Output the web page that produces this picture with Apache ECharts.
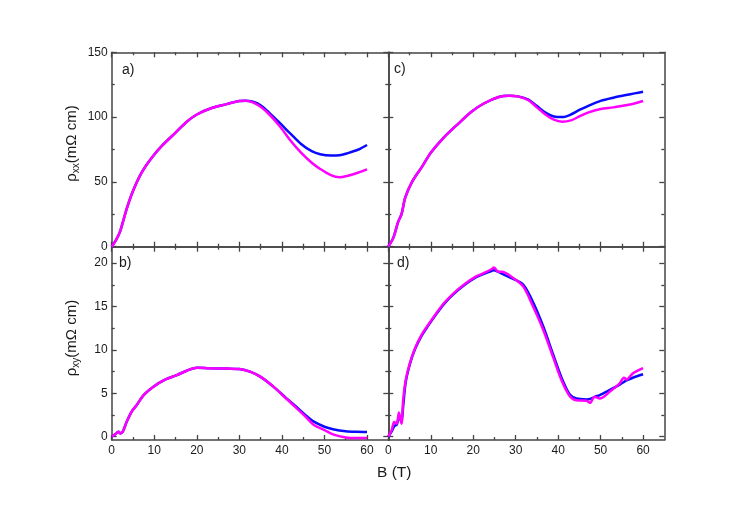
<!DOCTYPE html>
<html>
<head>
<meta charset="utf-8">
<script src="https://cdn.jsdelivr.net/npm/echarts@6/dist/echarts.min.js"></script>
<style>
  html, body { margin: 0; padding: 0; background: #fff; }
  #main { width: 747px; height: 525px; }
</style>
</head>
<body>
<div id="main"></div>
<script>
// tick labels
const xTicks = [0, 10, 20, 30, 40, 50, 60]
const xMinor = [5, 15, 25, 35, 45, 55]
const rxxTicks = [0, 50, 100, 150]
const rxxMinor = [25, 75, 125]
const rxyTicks = [0, 5, 10, 15, 20]
const rxyMinor = [2.5, 7.5, 12.5, 17.5]

// a) rho_xx, left
const aB = [0, 1, 2, 3.5, 5, 7, 9.5, 12, 15, 17.5, 20, 23.5, 27, 30, 31.5, 33, 35, 37, 39.5, 42, 44.5, 47, 49, 51.5, 53.5, 55.5, 58, 60]
const aBlue = [0, 5, 12, 29, 43, 57, 69, 78.5, 88, 96, 102, 107, 110, 112.5, 112.7, 112, 109.2, 103.5, 95.5, 87.2, 79.3, 73.7, 71.3, 70.3, 70.5, 72.2, 75, 78.5]
const aMagenta = [0, 5, 12, 29, 43, 57, 69, 78.5, 88, 96, 102, 107, 110, 112.5, 112.7, 111.5, 108, 102.2, 93, 82, 72.6, 64.8, 60, 55.2, 53.5, 54.8, 57.3, 59.7]

// c) rho_xx, right
const cB = [0, 1.2, 2.3, 3.1, 4, 5.5, 8, 10, 13, 16.5, 19.5, 22.5, 26, 28.5, 30.5, 33, 35, 37, 39, 41, 43, 45, 47, 50, 53, 56, 58, 60]
const cBlue = [0, 7, 19, 25, 38, 49.5, 62, 72.5, 84, 95, 104, 110.5, 115.5, 116.5, 116, 113.5, 108.5, 103.5, 100.5, 100, 102, 105.5, 108.5, 112.5, 115, 117, 118.3, 119.6]
const cMagenta = [0, 7, 19, 25, 38, 49.5, 62, 72.5, 84, 95, 104, 110.5, 115.5, 116.5, 116, 113, 107.5, 102, 98, 96.5, 97.5, 100.5, 103.5, 106.3, 107.5, 109.2, 110.5, 112.4]

// b) rho_xy, left
const bB = [0, 0.8, 1.6, 2, 2.6, 3.5, 4.7, 5.9, 7.5, 9.8, 12.2, 15.3, 17.6, 20, 23, 27, 30, 32.5, 35, 38, 41, 43.5, 46, 47.5, 50, 52, 55, 57.5, 60]
const bBlue = [0, 0.27, 0.58, 0.38, 0.58, 1.7, 2.9, 3.65, 4.8, 5.77, 6.5, 7.1, 7.6, 7.96, 7.9, 7.85, 7.8, 7.5, 6.9, 5.77, 4.45, 3.4, 2.3, 1.73, 1.15, 0.87, 0.63, 0.56, 0.54]
const bMagenta = [0, 0.27, 0.58, 0.38, 0.58, 1.7, 2.9, 3.65, 4.8, 5.77, 6.5, 7.1, 7.6, 7.96, 7.9, 7.85, 7.8, 7.5, 6.9, 5.77, 4.4, 3.27, 2.1, 1.35, 0.77, 0.27, -0.08, -0.15, -0.15]

// d) rho_xy, right
const dB = [0, 0.8, 1.4, 2, 2.5, 3.1, 3.5, 4.1, 5.1, 6.3, 7.8, 9.4, 11.4, 13.3, 15.3, 18, 20.4, 22.7, 24.3, 24.9, 25.9, 26.7, 29.4, 31.8, 34.1, 36.5, 38.8, 40.8, 42.7, 44.3, 46.7, 47.5, 48.6, 49.8, 52.2, 54.5, 55.5, 56.1, 57.6, 60]
const dBlue = [0, 0.6, 1.2, 1.4, 2.2, 1.8, 3.5, 6.3, 8.4, 10.1, 11.6, 12.8, 14.2, 15.4, 16.4, 17.5, 18.3, 18.8, 19.1, 19.2, 19.0, 18.8, 18.2, 17.5, 15.5, 12.7, 9.5, 6.8, 4.9, 4.4, 4.3, 4.35, 4.6, 4.8, 5.4, 6.0, 6.3, 6.5, 6.8, 7.2]
const dMagenta = [0, 0.77, 1.7, 1.5, 2.8, 1.5, 4.2, 6.5, 8.5, 10.2, 11.7, 12.9, 14.3, 15.5, 16.5, 17.6, 18.4, 18.9, 19.3, 19.5, 19, 19, 18.3, 17.3, 15, 12.3, 9.2, 6.5, 4.7, 4.2, 4.15, 3.9, 4.6, 4.4, 5.2, 6.15, 6.8, 6.6, 7.3, 7.9]

const FONT = 'Liberation Sans, Arial, sans-serif'
const AX = '#444'
const TXT = '#1a1a1a'

// one panel = grid + 4 x axes + 4 y axes (major/minor on each side)
const panels = [
  { box: { left: 111.7, top: 52.3, width: 276.6, height: 194.4 }, y: [0, 150], yt: rxxTicks, ym: rxxMinor, xLab: false, yLab: true,
    B: aB, blue: aBlue, mag: aMagenta },
  { box: { left: 388.3, top: 52.3, width: 276, height: 194.4 }, y: [0, 150], yt: rxxTicks, ym: rxxMinor, xLab: false, yLab: false,
    B: cB, blue: cBlue, mag: cMagenta },
  { box: { left: 111.7, top: 246.7, width: 276.6, height: 193.3 }, y: [-0.38, 21.9], yt: rxyTicks, ym: rxyMinor, xLab: true, yLab: true,
    B: bB, blue: bBlue, mag: bMagenta },
  { box: { left: 388.3, top: 246.7, width: 276, height: 193.3 }, y: [-0.38, 21.9], yt: rxyTicks, ym: rxyMinor, xLab: true, yLab: false,
    B: dB, blue: dBlue, mag: dMagenta }
]

function axis(g, pos, min, max, values, len, line, label) {
  return {
    type: 'value', gridIndex: g, position: pos, min: min, max: max,
    axisLine: { show: line, onZero: false, lineStyle: { color: AX, width: 1.5 } },
    axisTick: { show: true, inside: true, length: len, customValues: values, lineStyle: { color: AX, width: 1.3 } },
    axisLabel: label ? { show: true, customValues: values, color: TXT, fontSize: 12, fontFamily: FONT, margin: 5 } : { show: false },
    splitLine: { show: false }
  }
}

const grid = [], xAxis = [], yAxis = [], series = []
panels.forEach((p, g) => {
  grid.push(Object.assign({ show: false }, p.box))
  xAxis.push(axis(g, 'bottom', 0, 65, xTicks, 5, true, p.xLab))
  xAxis.push(axis(g, 'bottom', 0, 65, xMinor, 3, false, false))
  xAxis.push(axis(g, 'top', 0, 65, xTicks, 5, true, false))
  xAxis.push(axis(g, 'top', 0, 65, xMinor, 3, false, false))
  const yl = axis(g, 'left', p.y[0], p.y[1], p.yt, 5, true, p.yLab)
  if (p.yLab) yl.axisLabel.margin = 4
  yAxis.push(yl)
  yAxis.push(axis(g, 'left', p.y[0], p.y[1], p.ym, 3, false, false))
  yAxis.push(axis(g, 'right', p.y[0], p.y[1], p.yt, 5, true, false))
  yAxis.push(axis(g, 'right', p.y[0], p.y[1], p.ym, 3, false, false))

  const line = (vals, color) => ({
    type: 'line', xAxisIndex: g * 4, yAxisIndex: g * 4,
    data: p.B.map((b, i) => [b, vals[i]]),
    showSymbol: false, smooth: 0.3, silent: true,
    lineStyle: { color: color, width: 2.5 }
  })
  series.push(line(p.blue, '#0a0aff'))
  series.push(line(p.mag, '#ff00ff'))
})

const labelText = (text, left, top) => ({
  type: 'text', left: left, top: top,
  style: { text: text, fontSize: 14, fontFamily: FONT, fill: TXT }
})

// rotated y titles with subscript
const yTitle = (sub, x, y) => ({
  type: 'text', x: x, y: y, rotation: Math.PI / 2,
  style: {
    text: '{r|ρ}{s|' + sub + '}{r|(mΩ cm)}',
    align: 'center', verticalAlign: 'middle',
    rich: {
      r: { fontSize: 15, fontFamily: FONT, fill: TXT, lineHeight: 18, verticalAlign: 'middle' },
      s: { fontSize: 10, fontFamily: FONT, fill: TXT, lineHeight: 11, verticalAlign: 'bottom' }
    }
  }
})

const chart = echarts.init(document.getElementById('main'))
chart.setOption({
  backgroundColor: '#fff',
  animation: false,
  grid: grid,
  xAxis: xAxis,
  yAxis: yAxis,
  series: series,
  graphic: [
    labelText('a)', 122, 63),
    labelText('c)', 394, 62),
    labelText('b)', 119, 256),
    labelText('d)', 397, 256),
    yTitle('xx', 72, 143.5),
    yTitle('xy', 72, 338),
    { type: 'text', left: 377, top: 465,
      style: { text: 'B (T)', fontSize: 15.5, fontFamily: FONT, fill: TXT } }
  ]
})
</script>
</body>
</html>
